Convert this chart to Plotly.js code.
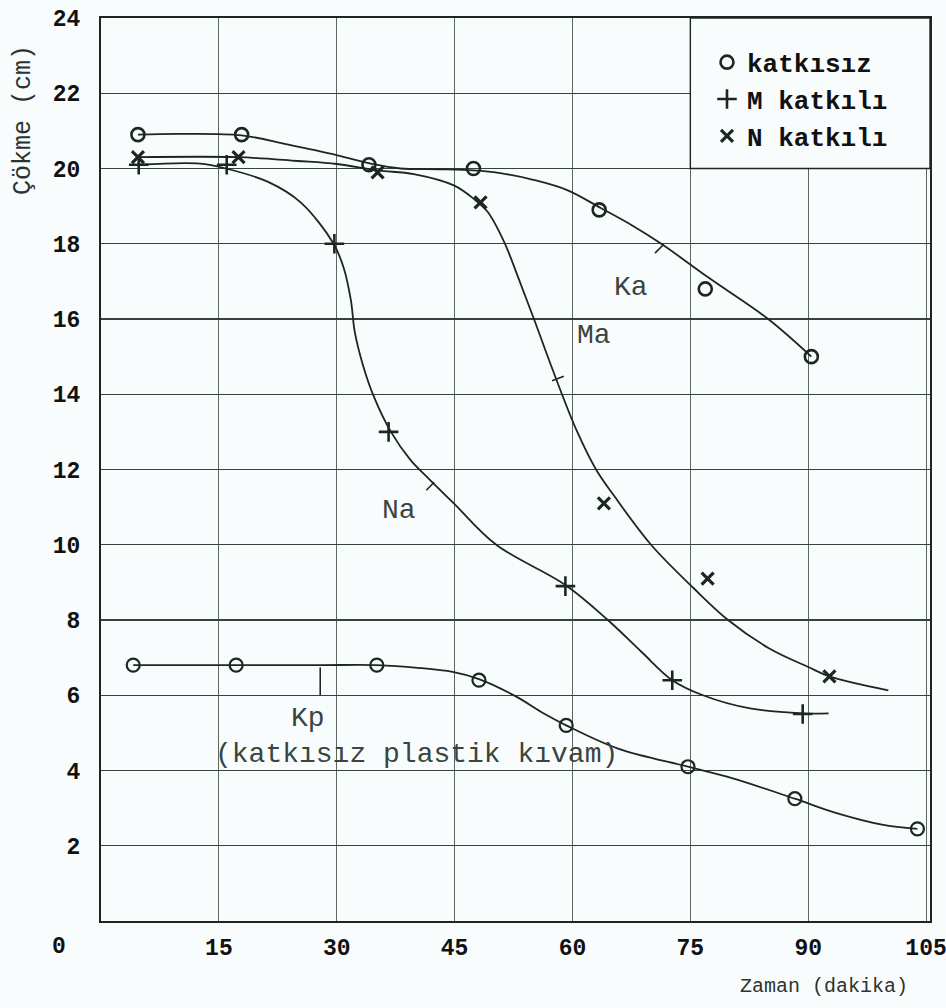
<!DOCTYPE html>
<html>
<head>
<meta charset="utf-8">
<script src="https://cdn.plot.ly/plotly-3.0.1.min.js"></script>
<style>
  html, body { margin: 0; padding: 0; background: #f9fcfc; }
  #chart { width: 946px; height: 1008px; }
</style>
</head>
<body>
<div id="chart"></div>
<script>
// Slump (çökme, cm) against time (zaman, dakika)

// measured points
const kaTime = [4.7, 17.9, 34.1, 47.4, 63.4, 76.9, 90.4];
const kaSlump = [20.9, 20.9, 20.1, 20.0, 18.9, 16.8, 15.0];
const maTime = [4.7, 17.5, 35.2, 48.3, 64.0, 77.2, 92.7];
const maSlump = [20.3, 20.3, 19.9, 19.1, 11.1, 9.1, 6.5];
const naTime = [4.8, 16.0, 29.7, 36.6, 59.1, 72.7, 89.3];
const naSlump = [20.1, 20.1, 18.0, 13.0, 8.9, 6.4, 5.5];
const kpTime = [4.1, 17.2, 35.1, 48.1, 59.2, 74.7, 88.3, 103.9];
const kpSlump = [6.8, 6.8, 6.8, 6.4, 5.2, 4.1, 3.25, 2.45];

// hand-faired curves drawn through the points
const kaCurveTime = [4.7, 10, 17.9, 23.7, 30.1, 34.5, 38.1, 43, 47.4, 51, 55, 59.4, 63.6, 67.5, 71.3, 77.3, 84.9, 90.4];
const kaCurveSlump = [20.9, 20.92, 20.88, 20.64, 20.35, 20.12, 20.0, 19.98, 19.95, 19.87, 19.7, 19.42, 18.95, 18.5, 18.0, 17.1, 16.0, 15.0];
const maCurveTime = [4.7, 17.5, 25, 30, 35.2, 39.8, 44.9, 47.4, 49.2, 51.3, 53.1, 55.1, 57.3, 60.5, 63.0, 65.3, 70.0, 75.4, 79.8, 85.0, 90.0, 92.7, 100.2];
const maCurveSlump = [20.3, 20.3, 20.2, 20.12, 19.95, 19.85, 19.55, 19.2, 18.85, 18.05, 17.1, 16.0, 14.75, 13.05, 12.0, 11.3, 10.0, 8.85, 8.0, 7.25, 6.75, 6.5, 6.13];
const naCurveTime = [4.8, 12.6, 15.9, 21.2, 25.4, 29.6, 30.9, 31.8, 32.3, 33.3, 34.7, 36.9, 39.4, 41.6, 44.9, 50.3, 59.1, 64.5, 68.8, 72.7, 76.6, 82.6, 89.3, 92.6];
const naCurveSlump = [20.1, 20.13, 20.0, 19.65, 19.1, 18.0, 17.35, 16.5, 15.65, 14.8, 13.95, 13.0, 12.25, 11.78, 11.1, 10.0, 8.93, 8.0, 7.15, 6.4, 6.0, 5.65, 5.52, 5.52];
const kpCurveTime = [4.1, 17.2, 28, 35.1, 40.3, 44.75, 48.1, 52.8, 56.3, 59.2, 65.8, 74.7, 80.4, 88.3, 93.4, 99.4, 103.9];
const kpCurveSlump = [6.8, 6.8, 6.8, 6.8, 6.73, 6.62, 6.43, 5.97, 5.52, 5.2, 4.58, 4.1, 3.79, 3.25, 2.88, 2.56, 2.45];

// axis ticks
const timeTicks = [15, 30, 45, 60, 75, 90, 105];
const slumpTicks = [2, 4, 6, 8, 10, 12, 14, 16, 18, 20, 22, 24];

// legend names
const legendNames = ['katkısız', 'M katkılı', 'N katkılı'];

const ink = '#1c2723';
const paper = '#f9fcfc';
const mono = 'Liberation Mono, Courier New, monospace';
const tickFont = { family: mono, size: 23, weight: 'bold', color: '#111' };

function curve(x, y) {
  return {
    x: x, y: y, type: 'scatter', mode: 'lines',
    line: { color: ink, width: 1.8, shape: 'spline', smoothing: 1 },
    showlegend: false, hoverinfo: 'skip'
  };
}

function points(x, y, symbol, size, lw, name, show) {
  return {
    x: x, y: y, type: 'scatter', mode: 'markers', name: name,
    showlegend: show,
    marker: { symbol: symbol, size: size, color: ink, line: { color: ink, width: lw } }
  };
}

const data = [
  curve(kaCurveTime, kaCurveSlump),
  curve(maCurveTime, maCurveSlump),
  curve(naCurveTime, naCurveSlump),
  curve(kpCurveTime, kpCurveSlump),
  points(kaTime, kaSlump, 'circle-open', 13, 2.6, legendNames[0], true),
  points(naTime, naSlump, 'cross-thin-open', 14, 2.6, legendNames[1], true),
  points(maTime, maSlump, 'x-thin-open', 12, 3.2, legendNames[2], true),
  points(kpTime, kpSlump, 'circle-open', 13, 2.2, legendNames[0], false)
];

const labelFont = { family: mono, size: 28, color: '#3a4440' };

function leader(x0, y0, x1, y1) {
  return { type: 'line', xref: 'x', yref: 'y', x0: x0, y0: y0, x1: x1, y1: y1,
           line: { color: ink, width: 1.6 } };
}

function dataLabel(text, x, y) {
  return { text: text, x: x, y: y, xref: 'x', yref: 'y', showarrow: false, font: labelFont };
}

const layout = {
  width: 946, height: 1008,
  paper_bgcolor: paper, plot_bgcolor: paper,
  margin: { l: 101, r: 16, t: 18, b: 87 },
  xaxis: {
    range: [0, 105.5], tickvals: timeTicks, ticktext: timeTicks.map(String),
    showgrid: true, gridcolor: '#5b6763', gridwidth: 1,
    showline: true, mirror: true, linecolor: ink, linewidth: 2,
    zeroline: false, ticks: '', ticklabelstandoff: 4, ticklabeloverflow: 'allow',
    tickfont: tickFont
  },
  yaxis: {
    range: [0, 24], tickvals: slumpTicks, ticktext: slumpTicks.map(String),
    showgrid: true, gridcolor: '#36423e', gridwidth: 1.3,
    showline: true, mirror: true, linecolor: ink, linewidth: 2,
    zeroline: false, ticks: '', ticklabelstandoff: 14,
    tickfont: tickFont
  },
  legend: {
    x: 0.731, y: 0.977, xanchor: 'left', yanchor: 'top',
    bgcolor: 'rgba(0,0,0,0)', borderwidth: 0,
    font: { family: mono, size: 26, weight: 'bold', color: '#111' },
    itemwidth: 30, tracegroupgap: 0
  },
  shapes: [
    // blank cell behind the legend
    { type: 'rect', xref: 'x', yref: 'y', x0: 75, x1: 105.5, y0: 20, y1: 24,
      fillcolor: paper, line: { color: ink, width: 1.4 }, layer: 'between' },
    leader(27.9, 6.74, 27.9, 6.0),
    leader(70.5, 17.75, 71.6, 17.98),
    leader(57.4, 14.36, 58.9, 14.48),
    leader(41.4, 11.45, 42.4, 11.66)
  ],
  annotations: [
    dataLabel('Ka', 67.5, 16.85),
    dataLabel('Ma', 62.8, 15.55),
    dataLabel('Na', 37.9, 10.9),
    dataLabel('Kp', 26.4, 5.38),
    dataLabel('(katkısız plastik kıvam)', 40.1, 4.42),
    { text: '0', x: -0.0507, y: -0.029, xanchor: 'center', yanchor: 'middle',
      xref: 'paper', yref: 'paper', showarrow: false, font: tickFont },
    { text: 'Çökme (cm)', textangle: -90, x: -0.094, y: 0.887, xanchor: 'center', yanchor: 'middle',
      xref: 'paper', yref: 'paper', showarrow: false, font: { family: mono, size: 25, color: '#2a3430' } },
    { text: 'Zaman (dakika)', x: 0.976, y: -0.073, xanchor: 'right', yanchor: 'middle',
      xref: 'paper', yref: 'paper', showarrow: false, font: { family: mono, size: 20, color: '#2a3430' } }
  ]
};

Plotly.newPlot('chart', data, layout, { displayModeBar: false, staticPlot: true });
</script>
</body>
</html>
